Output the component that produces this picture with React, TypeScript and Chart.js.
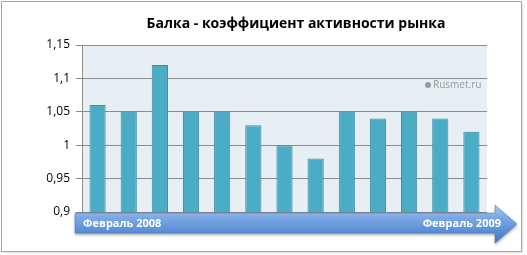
import React, { useEffect, useRef } from "react";
import { Chart, registerables } from "chart.js";

Chart.register(...registerables);

const categories = ["1", "2", "3", "4", "5", "6", "7", "8", "9", "10", "11", "12", "13"];
const values = [1.06, 1.05, 1.12, 1.05, 1.05, 1.03, 1.0, 0.98, 1.05, 1.04, 1.05, 1.04, 1.02];
const yMin = 0.9;
const yMax = 1.15;
const yStep = 0.05;
const titleText = "Балка - коэффициент активности рынка";
const arrowStart = "Февраль 2008";
const arrowEnd = "Февраль 2009";
const watermark = "Rusmet.ru";

const FONT = "'Open Sans', 'DejaVu Sans', sans-serif";

const decor = {
  id: "decor",
  beforeDraw(chart: any) {
    const { ctx, chartArea: a } = chart;
    ctx.save();
    ctx.shadowColor = "rgba(0,0,0,0.25)";
    ctx.shadowBlur = 3;
    ctx.shadowOffsetX = 1;
    ctx.shadowOffsetY = 1;
    ctx.fillStyle = "#ffffff";
    ctx.fillRect(2, 2, 519, 249);
    ctx.shadowColor = "transparent";
    ctx.strokeStyle = "#a6a6a6";
    ctx.lineWidth = 1;
    ctx.strokeRect(1.5, 1.5, 520, 250);
    ctx.fillStyle = "#e7eef4";
    ctx.fillRect(a.left, a.top, a.right - a.left, a.bottom - a.top);
    ctx.restore();
  },
  afterDatasetsDraw(chart: any) {
    const { ctx } = chart;
    ctx.save();
    ctx.fillStyle = "#9a9a9a";
    ctx.font = `10px ${FONT}`;
    ctx.textAlign = "left";
    ctx.textBaseline = "middle";
    ctx.fillText(watermark, 433, 85);
    ctx.beginPath();
    ctx.arc(428, 85, 3, 0, Math.PI * 2);
    ctx.fill();
    ctx.restore();
  },
  afterDraw(chart: any) {
    const { ctx } = chart;
    ctx.save();
    ctx.fillStyle = "#000";
    ctx.font = `bold 14px ${FONT}`;
    ctx.textAlign = "center";
    ctx.textBaseline = "middle";
    ctx.fillText(titleText, 296, 24);
    const x0 = 75, x1 = 495, tip = 517;
    const yt = 213, yb = 233, ht = 205, hb = 243, ym = 224;
    ctx.beginPath();
    ctx.moveTo(x0, yt);
    ctx.lineTo(x1, yt);
    ctx.lineTo(x1, ht);
    ctx.lineTo(tip, ym);
    ctx.lineTo(x1, hb);
    ctx.lineTo(x1, yb);
    ctx.lineTo(x0, yb);
    ctx.closePath();
    const g = ctx.createLinearGradient(0, ht, 0, hb);
    g.addColorStop(0, "#a9c8ef");
    g.addColorStop(0.3, "#7eaae6");
    g.addColorStop(1, "#3f78c6");
    ctx.shadowColor = "rgba(0,0,0,0.35)";
    ctx.shadowBlur = 3;
    ctx.shadowOffsetY = 2;
    ctx.fillStyle = g;
    ctx.fill();
    ctx.shadowColor = "transparent";
    ctx.strokeStyle = "rgba(60,110,180,0.6)";
    ctx.lineWidth = 0.8;
    ctx.stroke();
    ctx.fillStyle = "#ffffff";
    ctx.font = `bold 11px ${FONT}`;
    ctx.textBaseline = "middle";
    ctx.textAlign = "left";
    ctx.fillText(arrowStart, 83, 224);
    ctx.textAlign = "right";
    ctx.fillText(arrowEnd, 501, 224);
    ctx.restore();
  },
};

export default function App() {
  const ref = useRef<HTMLCanvasElement | null>(null);
  useEffect(() => {
    if (!ref.current) return;
    const chart = new Chart(ref.current, {
      type: "bar",
      data: {
        labels: categories,
        datasets: [
          {
            data: values,
            backgroundColor: "#4bacc6",
            borderColor: "#3b8fa6",
            borderWidth: 1,
            barPercentage: 0.52,
            categoryPercentage: 1,
          },
        ],
      },
      options: {
        animation: false,
        responsive: false,
        layout: { padding: { left: 0, right: 40, top: 45, bottom: 43 } },
        plugins: { legend: { display: false }, tooltip: { enabled: false }, title: { display: false } },
        scales: {
          x: { display: false, grid: { display: false } },
          y: {
            min: yMin,
            max: yMax,
            afterFit: (s: any) => {
              s.width = 82;
            },
            ticks: {
              stepSize: yStep,
              color: "#000",
              font: { family: FONT, size: 12 },
              padding: 6,
              callback: (v: any) => String(Math.round(Number(v) * 100) / 100).replace(".", ","),
            },
            grid: { color: "#8c8c8c", tickLength: 6, lineWidth: 1 },
            border: { display: true, color: "#8c8c8c" },
          },
        },
      },
      plugins: [decor],
    });
    return () => chart.destroy();
  }, []);
  return (
    <div style={{ position: "fixed", left: 0, top: 0, width: 527, height: 255, background: "#fff" }}>
      <canvas ref={ref} width={527} height={255} style={{ width: 527, height: 255, display: "block" }} />
    </div>
  );
}
